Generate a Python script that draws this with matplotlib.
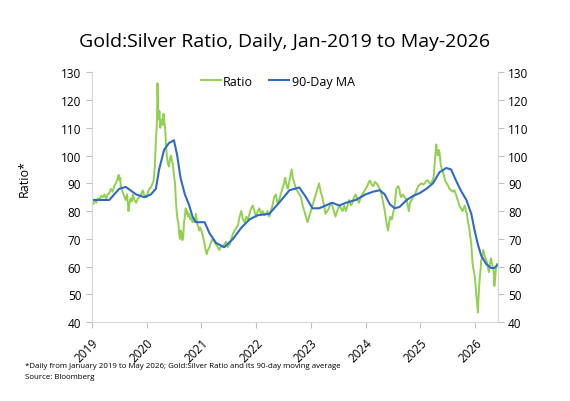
import matplotlib
matplotlib.use("Agg")
import matplotlib.pyplot as plt

plt.rcParams['font.family'] = ['Open Sans', 'DejaVu Sans']

# daily gold:silver ratio (decimal year, value)
ratio_t = [2019.00, 2019.03, 2019.05, 2019.08, 2019.11, 2019.14, 2019.17, 2019.20, 2019.23, 2019.26,
           2019.29, 2019.32, 2019.35, 2019.38, 2019.41, 2019.44, 2019.47, 2019.49, 2019.51, 2019.52,
           2019.53, 2019.56, 2019.59, 2019.62, 2019.645, 2019.67, 2019.69, 2019.71, 2019.73, 2019.75,
           2019.78, 2019.81, 2019.84, 2019.87, 2019.90, 2019.93, 2019.95, 2019.98,
           2020.00, 2020.03, 2020.05, 2020.08, 2020.11, 2020.13, 2020.15, 2020.17, 2020.19, 2020.20,
           2020.21, 2020.22, 2020.235, 2020.25, 2020.265, 2020.28, 2020.295, 2020.31, 2020.325, 2020.34,
           2020.355, 2020.37, 2020.39, 2020.41, 2020.43, 2020.45, 2020.465, 2020.48, 2020.50, 2020.52,
           2020.535, 2020.55, 2020.565, 2020.58, 2020.595, 2020.61, 2020.625, 2020.64, 2020.655, 2020.67,
           2020.685, 2020.70, 2020.715, 2020.73, 2020.745, 2020.76, 2020.78, 2020.80, 2020.82, 2020.84,
           2020.86, 2020.88, 2020.90, 2020.915, 2020.93, 2020.945, 2020.96, 2020.98,
           2021.00, 2021.03, 2021.06, 2021.08, 2021.10, 2021.12, 2021.15, 2021.18, 2021.21, 2021.24,
           2021.27, 2021.30, 2021.33, 2021.36, 2021.39, 2021.42, 2021.45, 2021.48, 2021.52, 2021.55,
           2021.58, 2021.61, 2021.64, 2021.67, 2021.70, 2021.73, 2021.76, 2021.79, 2021.82, 2021.85,
           2021.88, 2021.91, 2021.94, 2021.97,
           2022.00, 2022.03, 2022.06, 2022.09, 2022.12, 2022.15, 2022.18, 2022.21, 2022.24, 2022.27,
           2022.30, 2022.33, 2022.36, 2022.39, 2022.42, 2022.45, 2022.48, 2022.51, 2022.53, 2022.56,
           2022.58, 2022.61, 2022.63, 2022.65, 2022.67, 2022.70, 2022.73, 2022.76, 2022.79, 2022.82,
           2022.85, 2022.88, 2022.91, 2022.94, 2022.97,
           2023.00, 2023.03, 2023.06, 2023.09, 2023.12, 2023.15, 2023.18, 2023.21, 2023.24, 2023.27,
           2023.30, 2023.33, 2023.36, 2023.39, 2023.42, 2023.45, 2023.48, 2023.52, 2023.55, 2023.58,
           2023.61, 2023.64, 2023.67, 2023.70, 2023.73, 2023.76, 2023.79, 2023.82, 2023.85, 2023.88,
           2023.91, 2023.94, 2023.97,
           2024.00, 2024.03, 2024.06, 2024.08, 2024.11, 2024.14, 2024.17, 2024.20, 2024.23, 2024.26,
           2024.29, 2024.32, 2024.35, 2024.38, 2024.41, 2024.43, 2024.45, 2024.48, 2024.50, 2024.53,
           2024.56, 2024.59, 2024.61, 2024.63, 2024.65, 2024.68, 2024.71, 2024.75, 2024.77, 2024.79,
           2024.81, 2024.84, 2024.87, 2024.90, 2024.93, 2024.96, 2024.99,
           2025.02, 2025.05, 2025.08, 2025.11, 2025.14, 2025.17, 2025.20, 2025.22, 2025.24, 2025.26,
           2025.27, 2025.29, 2025.305, 2025.32, 2025.335, 2025.35, 2025.37, 2025.39, 2025.41, 2025.43,
           2025.45, 2025.48, 2025.51, 2025.53, 2025.56, 2025.59, 2025.62, 2025.65, 2025.68, 2025.71,
           2025.74, 2025.77, 2025.79, 2025.81, 2025.83, 2025.85, 2025.87, 2025.89, 2025.91, 2025.93,
           2025.95, 2025.96, 2025.98, 2025.99,
           2026.01, 2026.02, 2026.035, 2026.05, 2026.065, 2026.08, 2026.095, 2026.11, 2026.13, 2026.15,
           2026.17, 2026.19, 2026.21, 2026.23, 2026.25, 2026.27, 2026.29, 2026.31, 2026.32, 2026.34,
           2026.35, 2026.37, 2026.38, 2026.395, 2026.40]
ratio = [83.5, 82.5, 84, 83, 84.5, 84, 85.5, 85, 86, 84.5,
         86, 86.5, 88, 87, 89, 90, 91.5, 93, 91, 92,
         89, 87, 85.5, 84, 86, 80, 83, 84.5, 83.5, 86,
         84, 83, 84.5, 85, 86, 87.5, 86, 85.5,
         85, 87, 88, 88.5, 90, 91, 96, 105, 112, 126,
         118, 113, 116, 110, 112, 113, 111, 115, 112, 110,
         104, 100, 97, 96, 99, 100, 98, 97, 93, 90,
         84, 80, 77, 76, 72, 70, 73, 72, 69.5, 71,
         76, 78, 81, 79, 80, 78, 79, 77, 77.5, 76,
         77, 76, 79, 77, 75, 74.5, 73, 74,
         73, 71, 68, 66, 64.5, 66, 67, 69, 70, 69,
         68, 67, 66, 67.5, 67, 68, 69, 67, 68, 70,
         72, 73, 74, 75, 78, 80, 77, 76, 78, 77,
         79, 81, 82, 80,
         78, 80, 81, 79, 80, 78.5, 79, 80, 78, 80,
         82, 85, 86, 83, 84, 86, 88, 90, 92, 89,
         88, 91, 93, 95, 92, 90, 88, 87, 86, 85,
         82, 80, 78, 76, 78,
         80, 82, 84, 86, 88, 90, 87, 85, 82, 79,
         80, 81, 83, 82, 80, 78, 80, 82, 81, 80,
         82, 80, 82, 84, 82, 83, 85, 86, 84, 83,
         85, 86, 87,
         88, 89, 90.5, 91, 89.5, 89, 90.5, 90, 89, 88,
         86, 83, 80, 76, 73, 76, 78, 77, 79, 82,
         88, 89, 88.5, 86, 85, 86, 85, 84, 82, 80,
         83, 84, 85, 86, 87.5, 89, 89.5,
         90, 89.5, 90, 91, 91, 90, 90, 91, 92, 97,
         100, 104, 101, 100, 102, 101, 97, 95, 94, 93,
         91, 90, 89, 88, 87.5, 87, 87.5, 86, 84, 82,
         81, 80, 81, 82, 80, 79, 76, 74, 71, 68,
         62, 60, 58, 57,
         52, 50, 47, 43.5, 50, 55, 58, 62, 64, 66,
         64, 63, 62, 60, 58, 61, 63, 61, 60, 58,
         53, 57, 60, 60, 61]

# 90-day moving average
ma_t = [2019.00, 2019.32, 2019.41, 2019.50, 2019.62, 2019.81, 2019.96, 2020.08, 2020.17, 2020.23,
        2020.32, 2020.41, 2020.50, 2020.56, 2020.62, 2020.70, 2020.78, 2020.84, 2020.90, 2021.00,
        2021.06, 2021.15, 2021.27, 2021.42, 2021.58, 2021.73, 2021.88, 2022.03, 2022.24, 2022.42,
        2022.61, 2022.79, 2022.91, 2023.03, 2023.15, 2023.27, 2023.39, 2023.52, 2023.64, 2023.82,
        2024.00, 2024.14, 2024.26, 2024.35, 2024.44, 2024.53, 2024.62, 2024.75, 2024.87, 2024.99,
        2025.11, 2025.23, 2025.35, 2025.47, 2025.56, 2025.65, 2025.75, 2025.84, 2025.93, 2025.99,
        2026.05, 2026.11, 2026.20, 2026.29, 2026.35, 2026.40]
ma = [84, 84, 86, 88, 88.7, 86, 85, 86, 88, 95,
      102, 104.5, 105.5, 100, 92, 86, 82, 78, 76, 76,
      76, 72, 68.5, 67, 70, 74, 77, 78.5, 79, 83,
      87.5, 88.5, 85, 81, 81, 82, 83, 82, 83, 84,
      86, 87, 87.5, 86, 82.5, 81, 81.5, 84, 85.5, 86.5,
      88, 90, 94, 95.5, 95, 91, 87, 84, 79, 73,
      68, 64, 61, 59.5, 59.5, 60.5]

years = [2019, 2020, 2021, 2022, 2023, 2024, 2025, 2026]
yticks = [40, 50, 60, 70, 80, 90, 100, 110, 120, 130]

fig = plt.figure(figsize=(5.7, 4.02), dpi=100)
ax = fig.add_axes([0.161, 0.196, 0.712, 0.622])

ax.plot(ratio_t, ratio, color='#92D050', lw=1.4, label='Ratio')
ax.plot(ma_t, ma, color='#2F6BC5', lw=1.5, label='90-Day MA')

ax.set_xlim(2019, 2026.41)
ax.set_ylim(40, 130)
ax.set_xticks(years)
ax.set_xticklabels([str(y) for y in years], rotation=45, fontsize=8.5,
                   ha='right', rotation_mode='anchor')
ax.set_yticks(yticks)
ax.tick_params(axis='y', labelsize=8.5, length=4, color='#BFBFBF')
ax.tick_params(axis='x', length=4, color='#BFBFBF', pad=6)
ax.set_ylabel('Ratio*', fontsize=9)
ax.yaxis.set_label_coords(-0.15, 0.58)

ax2 = ax.twinx()
ax2.set_ylim(40, 130)
ax2.set_yticks(yticks)
ax2.tick_params(axis='y', labelsize=8.5, length=4, color='#BFBFBF')

for a in (ax, ax2):
    a.spines['top'].set_visible(False)
    a.spines['left'].set_color('#D9D9D9')
    a.spines['right'].set_color('#D9D9D9')
    a.spines['bottom'].set_color('#D9D9D9')

ax.legend(loc='center', bbox_to_anchor=(0.458, 0.964), ncol=2, frameon=False,
          fontsize=9, handlelength=1.6, handletextpad=0.2, columnspacing=1.3)

fig.text(0.5, 0.895, 'Gold:Silver Ratio, Daily, Jan-2019 to May-2026', ha='center', va='center',
         fontsize=14)
fig.text(0.044, 0.085, '*Daily from January 2019 to May 2026; Gold:Silver Ratio and its 90-day moving average',
         fontsize=5.7)
fig.text(0.044, 0.058, 'Source: Bloomberg', fontsize=5.7)

fig.savefig('out.png', dpi=100)
